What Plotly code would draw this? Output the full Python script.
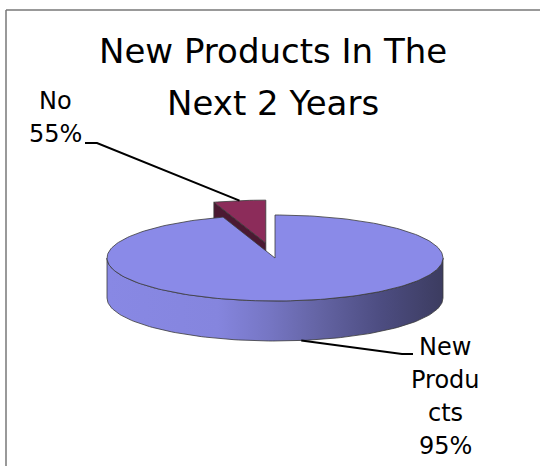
import numpy as np
import plotly.graph_objects as go

# ---- data -------------------------------------------------------------
categories = ["New Products", "No"]
shares = [95, 5]
label_text = [["New", "Produ", "cts", "95%"], ["No", "55%"]]
title_lines = ["New Products In The", "Next 2 Years"]

# ---- styling / layout constants --------------------------------------
W, H = 540, 466
CX, CY = 275, 258          # pie centre (px)
PX = 168                   # horizontal radius (px)
TILT = 43 / 168            # vertical squash of the top face
DEPTH = 40 / 168           # thickness of the pie
explode = [0.0, 0.35]
top_colors = ["#8A8AE8", "#8C2C5A"]
cut_colors = ["#4A4A90", "#4B1932"]
side_scales = [
    [[0, "#8888E4"], [0.33, "#8585DE"], [0.48, "#7676C4"], [0.63, "#6464A4"],
     [0.82, "#4C4C80"], [1, "#3C3C60"]],
    [[0, "#6E2248"], [1, "#3E1429"]],
]
EDGE = dict(color="#3A3A3A", width=0.8)
FONT = "DejaVu Sans"


def u_of(px):
    return (px - CX) / PX


def v_of(py):
    return (CY - py) / PX


def pt(theta, off, drop=0.0):
    t = np.radians(theta)
    return off[0] + np.sin(t), off[1] + TILT * np.cos(t) - drop


def arc(a, b, off, drop=0.0, n=None):
    n = n or max(int(abs(b - a) / 1.5) + 2, 3)
    th = np.linspace(a, b, n)
    xs, ys = pt(th, off, drop)
    return list(xs), list(ys)


total = float(sum(shares))
bounds = np.concatenate([[0], np.cumsum(shares)]) / total * 360.0

slices = []
for i, name in enumerate(categories):
    a, b = bounds[i], bounds[i + 1]
    mid = (a + b) / 2
    m = np.radians(mid)
    off = (explode[i] * np.sin(m), explode[i] * TILT * np.cos(m))
    slices.append(dict(i=i, a=a, b=b, mid=mid, off=off))

# paint from back to front
order = sorted(slices, key=lambda s: -np.cos(np.radians(s["mid"])))

fig = go.Figure()


def poly(xs, ys, **kw):
    fig.add_trace(go.Scatter(x=xs + [xs[0]], y=ys + [ys[0]], mode="lines",
                             fill="toself", line=EDGE, hoverinfo="skip", **kw))


for s in order:
    i, a, b, off = s["i"], s["a"], s["b"], s["off"]
    c = (off[0], off[1])
    # radial cut faces that turn toward the viewer
    for ang, normal in ((a, a - 90), (b, b + 90)):
        if np.cos(np.radians(normal)) < -1e-6:
            p = pt(ang, off)
            xs = [c[0], float(p[0]), float(p[0]), c[0]]
            ys = [c[1], float(p[1]), float(p[1]) - DEPTH, c[1] - DEPTH]
            poly(xs, ys, fillcolor=cut_colors[i])
    # outer wall (front half only)
    lo, hi = max(a, 90.0), min(b, 270.0)
    if hi > lo:
        tx, ty = arc(lo, hi, off)
        bx, by = arc(hi, lo, off, DEPTH)
        poly(tx + bx, ty + by,
             fillgradient=dict(type="horizontal", colorscale=side_scales[i]))
    # top face
    ax, ay = arc(a, b, off)
    poly([c[0]] + ax, [c[1]] + ay, fillcolor=top_colors[i])

# ---- leader lines -----------------------------------------------------
leader = dict(color="black", width=2)
s_np, s_no = slices[0], slices[1]
x0, y0 = pt(s_np["mid"], s_np["off"], DEPTH)
fig.add_trace(go.Scatter(x=[float(x0), u_of(402), u_of(413)],
                         y=[float(y0), v_of(354), v_of(354)],
                         mode="lines", line=leader, hoverinfo="skip"))
x1, y1 = pt(s_no["mid"], s_no["off"])
fig.add_trace(go.Scatter(x=[float(x1), u_of(97), u_of(85)],
                         y=[float(y1), v_of(143), v_of(143)],
                         mode="lines", line=leader, hoverinfo="skip"))

# ---- text -------------------------------------------------------------
annotations = []


def put(text, x, y, size):
    annotations.append(dict(text=text, x=x / W, y=1 - y / H, xref="paper",
                            yref="paper", xanchor="center", yanchor="middle",
                            showarrow=False,
                            font=dict(family=FONT, size=size, color="black")))


for k, line in enumerate(title_lines):
    put(line, 273, 51.5 + 51 * k, 34)
for k, line in enumerate(label_text[0]):
    put(line, 445, 346.5 + 33 * k, 24)
for k, line in enumerate(label_text[1]):
    put(line, 55, 101 + 33 * k, 24)

# frame around the chart area
shapes = [
    dict(type="line", xref="paper", yref="paper", x0=6 / W, x1=6 / W,
         y0=0, y1=1 - 10 / H, line=dict(color="#777777", width=1.5)),
    dict(type="line", xref="paper", yref="paper", x0=6 / W, x1=1,
         y0=1 - 10 / H, y1=1 - 10 / H, line=dict(color="#777777", width=1.5)),
]

fig.update_layout(
    width=W, height=H, margin=dict(l=0, r=0, t=0, b=0),
    paper_bgcolor="white", plot_bgcolor="white", showlegend=False,
    xaxis=dict(range=[u_of(0), u_of(W)], visible=False, fixedrange=True),
    yaxis=dict(range=[v_of(H), v_of(0)], visible=False, fixedrange=True),
    annotations=annotations, shapes=shapes,
)

fig.write_html("out.html")
